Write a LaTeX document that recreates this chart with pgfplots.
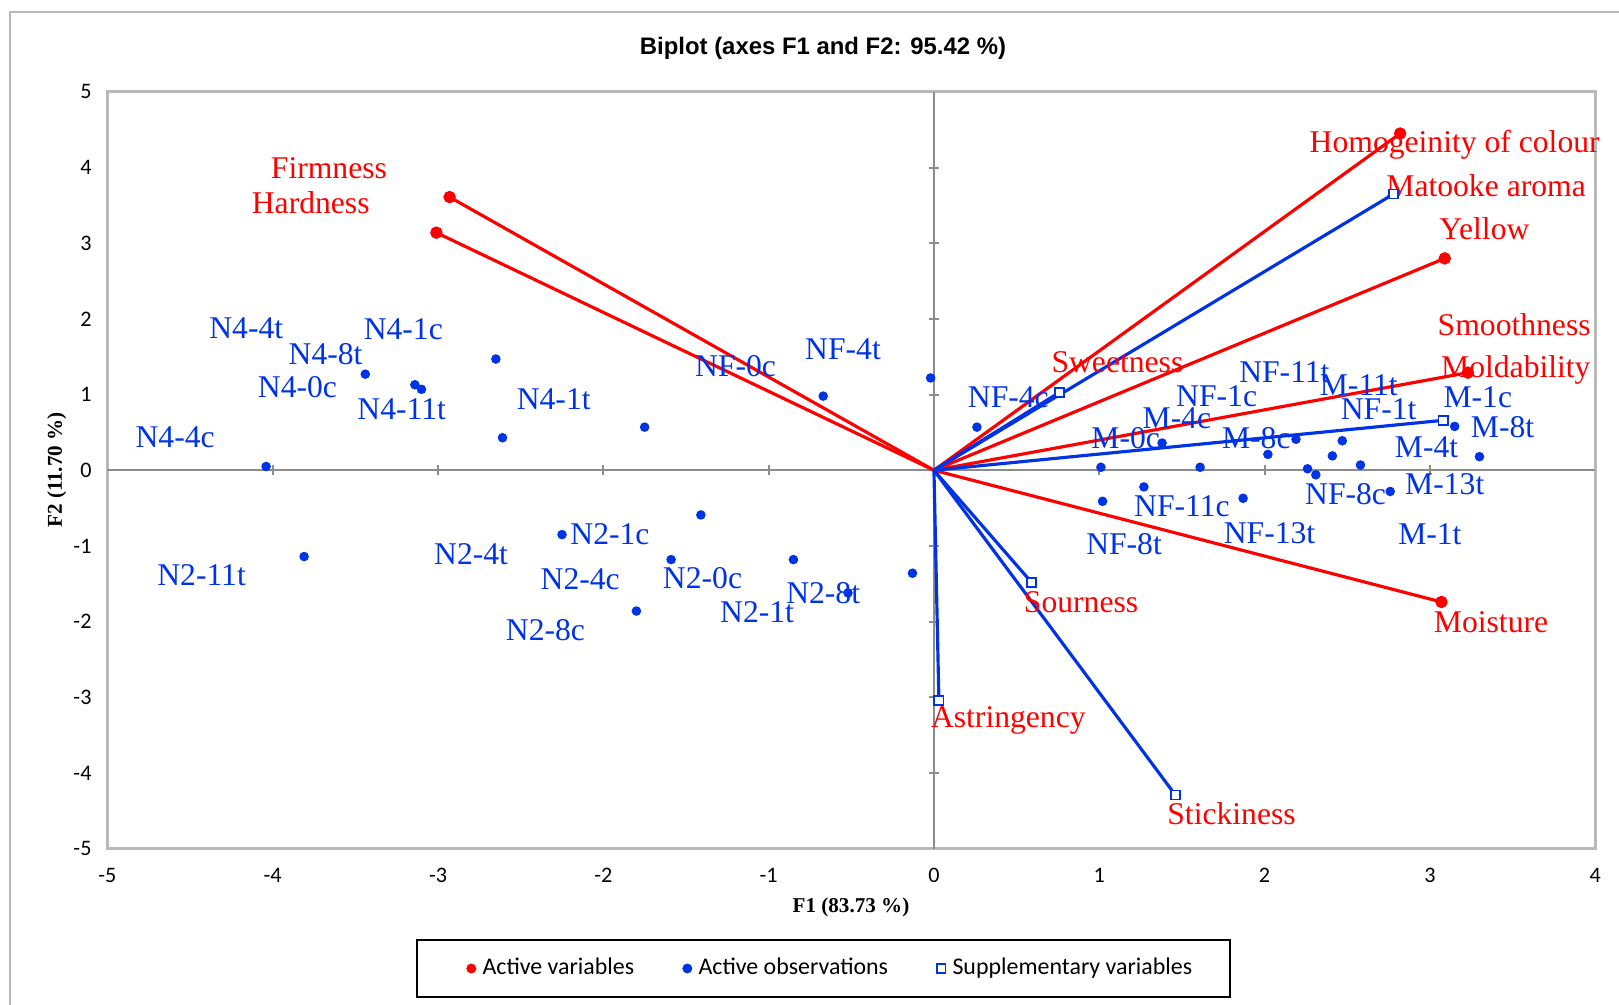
\documentclass[border=0pt]{standalone}
\usepackage{pgfplots}
\pgfplotsset{compat=1.18}
\usepackage{fontspec}
\setmainfont{Liberation Serif}
\newfontfamily\arial{Liberation Sans}
\newfontfamily\calibri{Carlito}
\definecolor{vred}{RGB}{255,0,0}
\definecolor{vblue}{RGB}{0,51,230}
\definecolor{boxgray}{RGB}{185,185,185}
\definecolor{axgray}{RGB}{140,140,140}
\newcommand\lab{\fontsize{9}{10}\selectfont}
\begin{document}
\begin{tikzpicture}
\useasboundingbox (0,0) rectangle (16.19,10.05);
\draw[boxgray, line width=0.6pt] (0.103,-0.2) -- (0.103,9.926) -- (16.5,9.926);
\node[font=\arial\bfseries\fontsize{6.8}{8}\selectfont] at (8.23,9.565) {Biplot (axes F1 and F2: 95.42 \%)};
\node[font=\bfseries\fontsize{6}{7}\selectfont] at (8.51,0.98) {F1 (83.73 \%)};
\node[font=\bfseries\fontsize{6}{7}\selectfont, rotate=90] at (0.568,5.35) {F2 (11.70 \%)};
\draw[black, line width=0.6pt] (4.17,0.08) rectangle (12.30,0.65);
\begin{axis}[
  at={(1.074cm,1.563cm)}, anchor=south west,
  scale only axis, width=14.878cm, height=7.568cm,
  xmin=-5, xmax=4, ymin=-5, ymax=5,
  xtick={-5,...,4}, ytick={-5,...,5},
  major tick length=0pt,
  axis line style={boxgray, line width=0.8pt},
  tick label style={font=\calibri\fontsize{6.3}{7}\selectfont},
  /pgf/number format/assume math mode=true,
  xticklabel style={anchor=center, yshift=-0.268cm},
  yticklabel style={anchor=east, xshift=-0.035cm},
  clip=false,
  legend style={at={(0.4878,-0.1583)}, anchor=center, draw=none, fill=none,
    legend columns=3, font=\calibri\fontsize{6.8}{8}\selectfont,
    /tikz/every even column/.append style={column sep=0.42cm}},
  legend image code/.code={\draw[#1] plot coordinates {(0cm,0cm)};},
]
\addlegendimage{mark=*, vred, mark size=1.2pt}
\addlegendentry{Active variables}
\addlegendimage{mark=*, vblue, mark size=1.2pt}
\addlegendentry{Active observations}
\addlegendimage{mark=square*, vblue, mark size=1.2pt, mark options={fill=white, line width=0.5pt}}
\addlegendentry{Supplementary variables}

\draw[axgray, line width=0.6pt] (axis cs:0,-5) -- (axis cs:0,5);
\draw[axgray, line width=0.6pt] (axis cs:-5,0) -- (axis cs:4,0);
\pgfplotsinvokeforeach{-4,...,4}{
  \draw[axgray, line width=0.6pt] ([xshift=-0.05cm]axis cs:0,#1) -- ([xshift=0.05cm]axis cs:0,#1);
}
\pgfplotsinvokeforeach{-4,...,3}{
  \draw[axgray, line width=0.6pt] ([yshift=-0.05cm]axis cs:#1,0) -- ([yshift=0.05cm]axis cs:#1,0);
}

% active variables (red vectors)
\pgfplotsset{actv/.style={vred, line width=0.9pt, mark=*, mark size=1.3pt, mark indices={2}, mark options={solid}, forget plot}}
\addplot[actv] coordinates {(0,0) (2.82,4.45)};
\addplot[actv] coordinates {(0,0) (3.09,2.80)};
\addplot[actv] coordinates {(0,0) (3.23,1.29)};
\addplot[actv] coordinates {(0,0) (3.07,-1.74)};
\addplot[actv] coordinates {(0,0) (-2.93,3.61)};
\addplot[actv] coordinates {(0,0) (-3.01,3.14)};

% supplementary variables (blue vectors)
\pgfplotsset{supv/.style={vblue, line width=0.9pt, mark=square*, mark size=1.3pt, mark indices={2}, mark options={solid, fill=white, line width=0.5pt}, forget plot}}
\addplot[supv] coordinates {(0,0) (2.78,3.65)};
\addplot[supv] coordinates {(0,0) (0.76,1.03)};
\addplot[supv] coordinates {(0,0) (3.08,0.66)};
\addplot[supv] coordinates {(0,0) (0.59,-1.48)};
\addplot[supv] coordinates {(0,0) (1.46,-4.29)};
\addplot[supv] coordinates {(0,0) (0.03,-3.04)};

% active observations
\addplot[only marks, mark=*, mark size=1.15pt, vblue, forget plot] coordinates {
(-2.65,1.47) (-3.44,1.27) (-3.14,1.13) (-3.10,1.07) (-2.61,0.43) (-1.75,0.57)
(-4.04,0.05) (-3.81,-1.14) (-2.25,-0.85) (-1.59,-1.18) (-1.41,-0.59) (-1.80,-1.86)
(-0.85,-1.18) (-0.52,-1.62) (-0.13,-1.36) (-0.67,0.98) (-0.02,1.22)
(0.26,0.57) (1.38,0.36) (1.01,0.04) (1.61,0.04) (1.27,-0.22) (1.02,-0.41)
(1.87,-0.37) (2.02,0.21) (2.19,0.41) (2.26,0.02) (2.31,-0.06) (2.41,0.19)
(2.47,0.39) (2.58,0.07) (2.76,-0.28) (3.15,0.58) (3.30,0.18)
};

% observation labels
\begin{scope}[every node/.style={vblue, font=\lab, inner sep=0pt}]
\node at (axis cs:-4.16,1.88) {N4-4t};
\node at (axis cs:-3.21,1.86) {N4-1c};
\node at (axis cs:-3.68,1.53) {N4-8t};
\node at (axis cs:-3.85,1.10) {N4-0c};
\node at (axis cs:-3.22,0.81) {N4-11t};
\node at (axis cs:-2.30,0.94) {N4-1t};
\node at (axis cs:-4.59,0.44) {N4-4c};
\node at (axis cs:-1.20,1.38) {NF-0c};
\node at (axis cs:-0.55,1.60) {NF-4t};
\node at (axis cs:-4.43,-1.38) {N2-11t};
\node at (axis cs:-2.80,-1.11) {N2-4t};
\node at (axis cs:-1.96,-0.85) {N2-1c};
\node at (axis cs:-2.14,-1.44) {N2-4c};
\node at (axis cs:-1.40,-1.43) {N2-0c};
\node at (axis cs:-0.67,-1.62) {N2-8t};
\node at (axis cs:-1.07,-1.88) {N2-1t};
\node at (axis cs:-2.35,-2.11) {N2-8c};
\node at (axis cs:0.45,0.96) {NF-4c};
\node at (axis cs:2.12,1.30) {NF-11t};
\node at (axis cs:1.71,0.98) {NF-1c};
\node at (axis cs:2.57,1.13) {M-11t};
\node at (axis cs:3.29,0.96) {M-1c};
\node at (axis cs:2.69,0.81) {NF-1t};
\node at (axis cs:3.44,0.57) {M-8t};
\node at (axis cs:1.47,0.69) {M-4c};
\node at (axis cs:1.16,0.43) {M-0c};
\node at (axis cs:1.95,0.43) {M-8c};
\node at (axis cs:2.98,0.31) {M-4t};
\node at (axis cs:3.09,-0.18) {M-13t};
\node at (axis cs:2.49,-0.32) {NF-8c};
\node at (axis cs:1.50,-0.47) {NF-11c};
\node at (axis cs:2.03,-0.83) {NF-13t};
\node at (axis cs:3.00,-0.85) {M-1t};
\node at (axis cs:1.15,-0.98) {NF-8t};
\end{scope}

% variable labels
\begin{scope}[every node/.style={vred, font=\lab, inner sep=0pt}]
\node at (axis cs:3.15,4.30) {Homogeinity of colour};
\node at (axis cs:3.34,3.76) {Matooke aroma};
\node at (axis cs:3.33,3.19) {Yellow};
\node at (axis cs:3.51,1.92) {Smoothness};
\node at (axis cs:3.52,1.33) {Moldability};
\node at (axis cs:1.11,1.43) {Sweetness};
\node at (axis cs:0.89,-1.74) {Sourness};
\node at (axis cs:0.45,-3.30) {Astringency};
\node at (axis cs:1.80,-4.54) {Stickiness};
\node at (axis cs:3.37,-2.01) {Moisture};
\node at (axis cs:-3.66,3.99) {Firmness};
\node at (axis cs:-3.77,3.54) {Hardness};
\end{scope}
\end{axis}
\end{tikzpicture}
\end{document}
